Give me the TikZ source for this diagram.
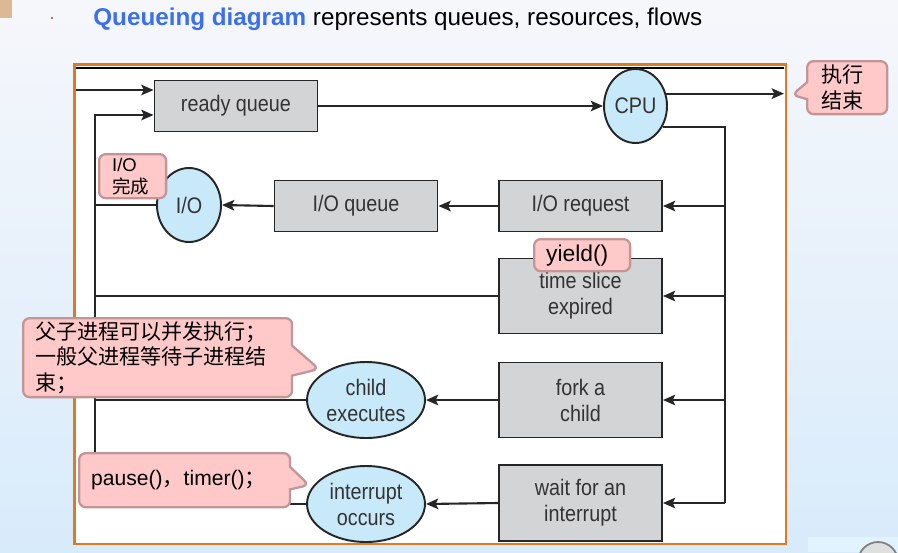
\documentclass[tikz,border=0pt]{standalone}
\usepackage{fontspec}
\setmainfont{Liberation Sans}
\newfontfamily\cjk{Noto Sans CJK SC}
\newfontfamily\figsans[FakeStretch=0.88]{Liberation Sans}
\usepackage{tikz}
\usetikzlibrary{arrows.meta,shapes.geometric,shapes.callouts}
\definecolor{bgtop}{HTML}{F6F7FB}
\definecolor{bgbot}{HTML}{D8EBFB}
\definecolor{qblue}{HTML}{3C6EF0}
\definecolor{bulletred}{HTML}{A84A2A}
\definecolor{frameorange}{HTML}{DD7A22}
\definecolor{boxgray}{HTML}{D3D4D6}
\definecolor{cirblue}{HTML}{C8E9FA}
\definecolor{notepink}{HTML}{FFC9C9}
\definecolor{noteline}{HTML}{C29696}
\definecolor{figtext}{HTML}{333333}

\begin{document}
\begin{tikzpicture}[x=0.02cm,y=-0.02cm,
  figfont/.style={font=\figsans\fontsize{12.8}{14.8}\selectfont, text=figtext},
  queuebox/.style={draw=black!85, line width=1.1pt, fill=boxgray, minimum width=3.26cm, minimum height=1.02cm, inner sep=0pt, figfont, align=center},
  res/.style={ellipse, draw=black!85, line width=1.1pt, fill=cirblue, inner sep=0pt, figfont, align=center},
  flow/.style={line width=1.2pt, black!85},
  arr/.style={flow, -{Stealth[length=7pt,width=6pt,inset=1.5pt]}},
  note/.style={fill=notepink, draw=noteline, line width=1.3pt, rounded corners=0.13cm, inner ysep=0pt, align=left, anchor=north west, text=black, font=\fontsize{12}{14.6}\selectfont},
]
\useasboundingbox (0,0) rectangle (898,552);
\shade[top color=bgtop, bottom color=bgbot] (0,0) rectangle (898,552);
% slide corners
\fill[brown!55] (0,0) rectangle (12,18);
\fill[blue!40!cyan!12] (808,537) rectangle (898,552);
\begin{scope}
\clip (808,537) rectangle (898,552);
\draw[gray, line width=1pt, fill=gray!25] (878,562) circle (20);
\end{scope}
% title
\fill[bulletred] (52,18) circle (1.2);
\node[anchor=base west, inner sep=0pt, font=\fontsize{13.8}{16}\selectfont] (title) at (93,25)
  {\textcolor{qblue}{\bfseries Queueing diagram} represents queues, resources, flows};
% frame
\draw[frameorange, line width=1.4pt, fill=white] (74.5,64.5) rectangle (786,544);
\draw[black, line width=1.5pt] (76,68) -- (784,68);

\node[queuebox] (rq) at (236,106) {ready queue};
\node[res, minimum width=1.26cm, minimum height=1.48cm] (cpu) at (635.5,106) {CPU};
\node[queuebox] (ioreq) at (580.5,206) {I/O request};
\node[queuebox] (ioq) at (356,206) {I/O queue};
\node[res, minimum width=1.28cm, minimum height=1.48cm] (io) at (189,205) {I/O};
\node[queuebox, minimum height=1.5cm] (slice) at (580.5,296) {time slice\\expired};
\node[queuebox, minimum height=1.5cm] (fork) at (580.5,400) {fork a\\child};
\node[queuebox, minimum height=1.52cm] (wait) at (580.5,503) {wait for an\\interrupt};
\node[res, minimum width=2.36cm, minimum height=1.52cm] (child) at (366,400) {child\\executes};
\node[res, minimum width=2.36cm, minimum height=1.52cm] (intr) at (366,504) {interrupt\\occurs};

\coordinate (entry) at (76,90);
\coordinate (exit) at (784,92);
\coordinate (lbus) at (95,115);
\coordinate (rbus) at (725,503);

\draw[arr] (entry) -- (entry -| rq.west);
\draw[arr] (rq.east) -- (cpu.west);
\draw[arr] (cpu.22) -- (cpu.22 -| exit);
\draw[flow] (cpu.-38) -| (rbus);
\draw[arr] (rbus |- ioreq.east) -- (ioreq.east);
\draw[arr] (rbus |- slice.east) -- (slice.east);
\draw[arr] (rbus |- fork.east) -- (fork.east);
\draw[arr] (rbus) -- (wait.east);
\draw[arr] (ioreq.west) -- (ioq.east);
\draw[arr] (ioq.west) -- (io.east);
\draw[arr] (fork.west) -- (child.east);
\draw[arr] (wait.west) -- (intr.east);
\draw[flow] (io.west) -- (io.west -| lbus);
\draw[flow] (slice.west) -- (slice.west -| lbus);
\draw[flow] (child.west) -- (child.west -| lbus);
\draw[arr] (intr.west) -| (lbus) -- (lbus -| rq.west);

% notes
\node[note, rectangle callout, callout absolute pointer={(792,95)}, callout pointer width=0.34cm,
  text width=1.04cm, inner xsep=0.28cm, minimum height=1.06cm] (endnote) at (806,60) {\cjk 执行\\结束};
\node[note, text width=0.82cm, inner xsep=0.26cm, minimum height=0.88cm,
  font=\fontsize{10.5}{12.5}\selectfont] (ionote) at (98,153) {I/O\\{\cjk 完成}};
\node[note, text width=1.44cm, inner xsep=0.24cm, minimum height=0.64cm,
  font=\fontsize{13}{15}\selectfont] (yieldnote) at (533,238) {yield()};
\node[note, rectangle callout, callout absolute pointer={(319,369)}, callout pointer width=0.6cm,
  text width=4.9cm, inner xsep=0.24cm, minimum height=1.58cm] (forknote) at (22,317)
  {\cjk 父子进程可以并发执行；\\一般父进程等待子进程结\\束；};
\node[note, rectangle callout, callout absolute pointer={(309,485)}, callout pointer width=0.45cm,
  text width=3.74cm, inner xsep=0.24cm, minimum height=1.08cm] (pausenote) at (78,452)
  {pause(){\cjk ，}timer(){\cjk ；}};
\end{tikzpicture}
\end{document}
